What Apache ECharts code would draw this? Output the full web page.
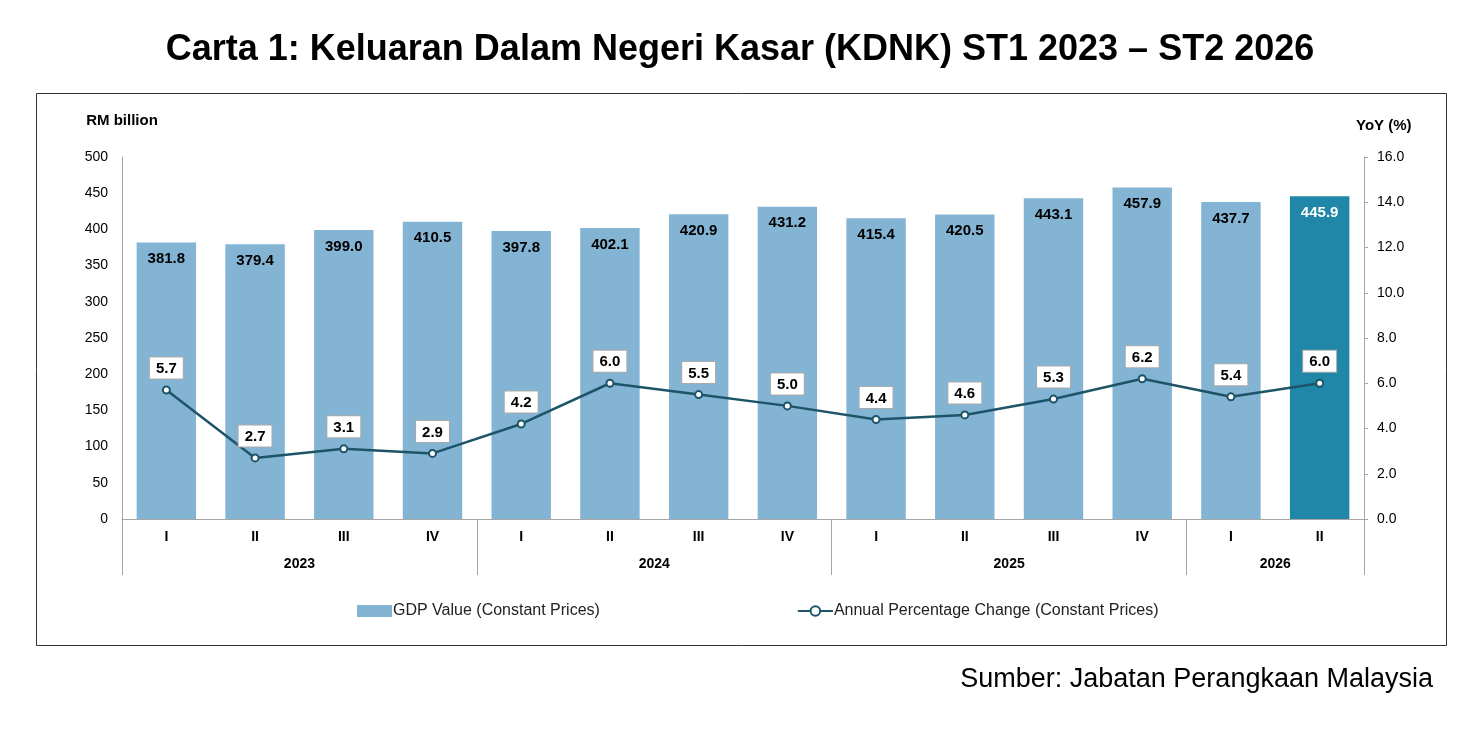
<!DOCTYPE html>
<html style="height: 100%">
   <head>
       <meta charset="utf-8">
       <title>Carta 1: KDNK</title>
   </head>
   <body style="height: 100%; margin: 0; background: #fff">
       <div id="container" style="width: 1480px; height: 732px"></div>
       <script type="text/javascript" src="https://cdn.jsdelivr.net/npm/echarts@6/dist/echarts.min.js"></script>
       <script type="text/javascript">
var quarters = ['I', 'II', 'III', 'IV', 'I', 'II', 'III', 'IV', 'I', 'II', 'III', 'IV', 'I', 'II'];
var years = ['2023', '2024', '2025', '2026'];
// year label sits at these half-quarter slots, separators at the others
var yearLabelSlots = [4, 12, 20, 26];
var yearSepSlots = [0, 8, 16, 24, 28];
var gdpValues = [381.8, 379.4, 399.0, 410.5, 397.8, 402.1, 420.9, 431.2, 415.4, 420.5, 443.1, 457.9, 437.7, 445.9];
var yoyValues = [5.7, 2.7, 3.1, 2.9, 4.2, 6.0, 5.5, 5.0, 4.4, 4.6, 5.3, 6.2, 5.4, 6.0];

var dom = document.getElementById("container");
var myChart = echarts.init(dom);
var option = null;

var slotCats = [];
for (var i = 0; i <= 28; i++) {
    var k = yearLabelSlots.indexOf(i);
    slotCats.push(k >= 0 ? years[k] : '');
}

var barData = gdpValues.map(function (v, i) {
    if (i === gdpValues.length - 1) {
        return {
            value: v,
            itemStyle: {color: '#2187a9'},
            label: {color: '#fff'}
        };
    }
    return v;
});

var axisGrey = '#a6a6a6';

option = {
    backgroundColor: '#fff',
    textStyle: {fontFamily: 'Liberation Sans, Arial, sans-serif'},
    title: {
        text: 'Carta 1: Keluaran Dalam Negeri Kasar (KDNK) ST1 2023 \u2013 ST2 2026',
        left: 'center',
        top: 27,
        textStyle: {
            fontSize: 36,
            fontWeight: 'bold',
            color: '#000',
            fontFamily: 'Liberation Sans, Arial, sans-serif'
        }
    },
    graphic: [
        {
            type: 'rect',
            shape: {x: 36.5, y: 93.5, width: 1410, height: 552},
            style: {fill: 'none', stroke: '#333', lineWidth: 1},
            z: -1
        },
        {
            type: 'text',
            right: 47,
            top: 666,
            style: {
                text: 'Sumber: Jabatan Perangkaan Malaysia',
                fontSize: 27,
                fill: '#000',
                fontFamily: 'Liberation Sans, Arial, sans-serif'
            }
        }
    ],
    legend: {
        left: 352,
        top: 598,
        itemGap: 197,
        itemWidth: 35,
        itemHeight: 12,
        textStyle: {
            fontSize: 16,
            color: '#222',
            padding: [0, 0, 0, -4]
        },
        data: [
            {name: 'GDP Value (Constant Prices)', icon: 'rect'},
            {name: 'Annual Percentage Change (Constant Prices)'}
        ]
    },
    grid: {
        left: 122,
        right: 116,
        top: 157,
        bottom: 213
    },
    xAxis: [
        {
            type: 'category',
            data: quarters,
            boundaryGap: true,
            axisLine: {show: true, lineStyle: {color: axisGrey, width: 1}},
            axisTick: {show: false},
            axisLabel: {
                margin: 11,
                fontSize: 14,
                fontWeight: 'bold',
                color: '#000'
            }
        },
        {
            type: 'category',
            position: 'bottom',
            data: slotCats,
            boundaryGap: false,
            axisLine: {show: false},
            axisTick: {
                show: true,
                length: 56,
                interval: function (idx) { return yearSepSlots.indexOf(idx) >= 0; },
                lineStyle: {color: axisGrey, width: 1}
            },
            axisLabel: {
                margin: 38,
                interval: function (idx) { return yearLabelSlots.indexOf(idx) >= 0; },
                fontSize: 14,
                fontWeight: 'bold',
                color: '#000'
            }
        }
    ],
    yAxis: [
        {
            type: 'value',
            min: 0,
            max: 500,
            interval: 50,
            name: 'RM billion',
            nameLocation: 'end',
            nameGap: 29,
            nameTextStyle: {fontSize: 15, fontWeight: 'bold', color: '#000'},
            axisLine: {show: true, lineStyle: {color: axisGrey, width: 1}},
            axisTick: {show: false},
            splitLine: {show: false},
            axisLabel: {margin: 14, fontSize: 14, color: '#000'}
        },
        {
            type: 'value',
            min: 0,
            max: 16,
            interval: 2,
            name: 'YoY (%)',
            nameLocation: 'end',
            nameGap: 24,
            nameTextStyle: {fontSize: 15, fontWeight: 'bold', color: '#000', align: 'left', padding: [0, 0, 0, -8]},
            position: 'right',
            axisLine: {show: true, lineStyle: {color: axisGrey, width: 1}},
            axisTick: {show: true, length: 4, lineStyle: {color: axisGrey}},
            splitLine: {show: false},
            axisLabel: {
                margin: 13,
                fontSize: 14,
                color: '#000',
                formatter: function (v) { return v.toFixed(1); }
            }
        }
    ],
    series: [
        {
            name: 'GDP Value (Constant Prices)',
            type: 'bar',
            xAxisIndex: 0,
            yAxisIndex: 0,
            barWidth: '67%',
            data: barData,
            itemStyle: {color: '#84b4d4'},
            label: {
                show: true,
                position: 'insideTop',
                distance: 9,
                fontSize: 15,
                fontWeight: 'bold',
                color: '#000',
                formatter: function (p) { return p.value.toFixed(1); }
            }
        },
        {
            name: 'Annual Percentage Change (Constant Prices)',
            type: 'line',
            xAxisIndex: 0,
            yAxisIndex: 1,
            data: yoyValues,
            symbol: 'emptyCircle',
            symbolSize: 7,
            lineStyle: {color: '#1d5468', width: 2.5},
            itemStyle: {color: '#1d5468', borderWidth: 2},
            label: {
                show: true,
                position: 'top',
                distance: 7,
                fontSize: 15,
                fontWeight: 'bold',
                color: '#000',
                backgroundColor: '#fff',
                borderColor: '#aaaaaa',
                borderWidth: 1,
                padding: [4, 6, 2, 6],
                formatter: function (p) { return p.value.toFixed(1); }
            },
            z: 5
        }
    ]
};
if (option && typeof option === "object") {
    myChart.setOption(option, true);
}
       </script>
   </body>
</html>
